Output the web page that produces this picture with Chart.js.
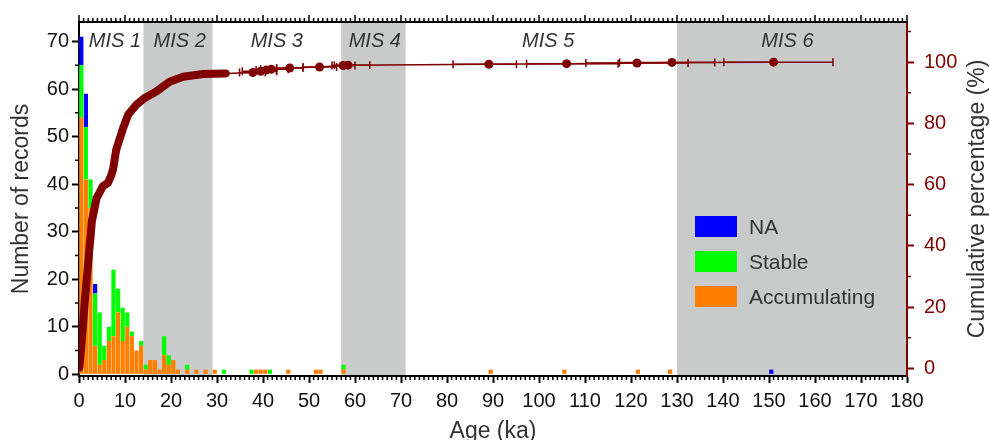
<!DOCTYPE html>
<html>
<head>
<meta charset="utf-8">
<title>Records by age</title>
<script src="https://cdn.jsdelivr.net/npm/chart.js@4.4.1/dist/chart.umd.min.js"></script>
<style>
  html, body { margin: 0; padding: 0; background: #fff; }
  #wrap { width: 990px; height: 440px; }
</style>
</head>
<body>
<div id="wrap"><canvas id="chart"></canvas></div>
<script>
// --- DATA ---
// 1-ka age bins: start of each bin (ka); bins without records are left out
const binStarts = [0, 1, 2, 3, 4, 5, 6, 7, 8, 9, 10, 11, 12, 13, 14, 15, 16, 17, 18, 19, 20, 21,
                   23, 25, 27, 29, 31, 37, 38, 39, 40, 41, 45, 51, 52, 57, 89, 105, 121, 128, 150];
const accumulating = [54, 41, 35, 6, 2, 3, 7, 8, 13, 7, 10, 8, 5, 6, 1, 3, 3, 1, 4, 2, 3, 1,
                      1, 1, 1, 1, 0, 0, 1, 1, 1, 0, 1, 1, 1, 1, 1, 1, 1, 1, 0];
const stable = [11, 11, 6, 11, 11, 3, 3, 14, 5, 7, 3, 1, 0, 1, 1, 0, 0, 0, 4, 2, 0, 0,
                1, 0, 0, 0, 1, 1, 0, 0, 0, 1, 0, 0, 0, 1, 0, 0, 0, 0, 0];
const notAvailable = [6, 7, 0, 2, 0, 0, 0, 0, 0, 0, 0, 0, 0, 0, 0, 0, 0, 0, 0, 0, 0, 0,
                      0, 0, 0, 0, 0, 0, 0, 0, 0, 0, 0, 0, 0, 0, 0, 0, 0, 0, 1];

// cumulative percentage curve; error bars only on the sparse older records
const cumAge = [0.1, 0.7, 1.24, 2.2, 2.8, 3.8, 5.2, 6.3, 7.0, 7.4, 8.1, 9.6, 10.7, 12.5, 14.3, 16.8, 19.7, 22.6, 27, 31.9,
                37.8, 39.5, 40.7, 41.8, 45.8, 52.3, 57.4, 58.5, 89.1, 106, 121.3, 128.9, 151];
const cumPct = [0.3, 11, 21.5, 38, 48, 55.5, 59.5, 60.6, 63, 65, 71.5, 78.5, 82.9, 86.1, 88.3, 90.4, 93.6, 95.2, 96.1, 96.3,
                96.6, 97.0, 97.4, 97.7, 98.1, 98.4, 98.9, 99.0, 99.3, 99.5, 99.7, 99.9, 100];
const cumErrLow = [null, null, null, null, null, null, null, null, null, null, null, null, null, null, null, null, null, null, null, null,
                   34.9, 35.5, 38.5, 39.5, 43, 48.7, 55, 55.5, 81.3, 97.3, 110.2, 117.5, 140.2];
const cumErrHigh = [null, null, null, null, null, null, null, null, null, null, null, null, null, null, null, null, null, null, null, null,
                    40.5, 43, 42.9, 45.5, 48.7, 56, 60, 63.2, 95.1, 117.2, 132.4, 138.2, 163.9];

// marine isotope stages
const misNames = ['MIS 1', 'MIS 2', 'MIS 3', 'MIS 4', 'MIS 5', 'MIS 6'];
const misLabelAge = [7.8, 21.9, 43, 64.3, 102, 154];
const shadedStart = [14, 57, 130];
const shadedEnd = [29, 71, 180];

const xTicks = { min: 0, max: 180, step: 10 };
const leftTicks = { min: -0.35, max: 74.1, step: 10 };
const rightTicks = { min: -2.47, max: 113.1, step: 20 };

// --- Styling ---
const DARK_RED = '#800000';
const FONT = '"Liberation Sans", Arial, sans-serif';
Chart.defaults.font.family = FONT;

const pairs = (vals) => binStarts.map((b, i) => ({ x: b + 0.5, y: vals[i] }));
const isSparse = (i) => cumErrLow[i] !== null && cumErrLow[i] !== undefined;

const decorations = {
    id: 'decorations',
    beforeDraw(chart) {
        const { ctx, chartArea: a, scales: { x } } = chart;
        ctx.save();
        ctx.fillStyle = '#c9caca';
        shadedStart.forEach((s, i) => {
            const x0 = x.getPixelForValue(s), x1 = x.getPixelForValue(shadedEnd[i]);
            ctx.fillRect(x0, a.top, x1 - x0, a.bottom - a.top);
        });
        ctx.restore();
    },
    afterDatasetsDraw(chart) {
        // horizontal error bars for the cumulative curve
        const { ctx, scales: { x, y2 } } = chart;
        ctx.save();
        ctx.strokeStyle = DARK_RED;
        ctx.lineWidth = 1.5;
        cumAge.forEach((age, i) => {
            if (!isSparse(i)) return;
            const py = y2.getPixelForValue(cumPct[i]);
            const xl = x.getPixelForValue(cumErrLow[i]);
            const xh = x.getPixelForValue(cumErrHigh[i]);
            ctx.beginPath();
            ctx.moveTo(xl, py); ctx.lineTo(xh, py);
            ctx.moveTo(xl, py - 4); ctx.lineTo(xl, py + 4);
            ctx.moveTo(xh, py - 4); ctx.lineTo(xh, py + 4);
            ctx.stroke();
        });
        ctx.restore();
    },
    afterDraw(chart) {
        const { ctx, chartArea: a, scales: { x, y, y2 } } = chart;
        ctx.save();

        // top frame with outward ticks
        ctx.strokeStyle = '#000';
        ctx.lineWidth = 2;
        ctx.beginPath();
        ctx.moveTo(a.left - 1, a.top); ctx.lineTo(a.right, a.top);
        ctx.stroke();

        ctx.lineWidth = 1.5;
        ctx.beginPath();
        for (let v = xTicks.min; v <= xTicks.max; v++) {
            const px = x.getPixelForValue(v);
            const major = v % xTicks.step === 0;
            ctx.moveTo(px, a.top); ctx.lineTo(px, a.top - (major ? 7 : 4));
            if (!major) { ctx.moveTo(px, a.bottom); ctx.lineTo(px, a.bottom + 4); }
        }
        for (let v = 5; v < leftTicks.max; v += 10) {
            const py = y.getPixelForValue(v);
            ctx.moveTo(a.left, py); ctx.lineTo(a.left - 4, py);
        }
        ctx.stroke();

        ctx.strokeStyle = DARK_RED;
        ctx.beginPath();
        for (let v = 10; v < rightTicks.max; v += 20) {
            const py = y2.getPixelForValue(v);
            ctx.moveTo(a.right, py); ctx.lineTo(a.right + 4, py);
        }
        ctx.stroke();

        // stage labels
        ctx.fillStyle = '#333';
        ctx.font = 'italic 20px ' + FONT;
        ctx.textAlign = 'center';
        ctx.textBaseline = 'alphabetic';
        misNames.forEach((name, i) => ctx.fillText(name, x.getPixelForValue(misLabelAge[i]), 47));

        // legend inside plot
        const bars = chart.data.datasets.filter(d => d.type !== 'line').slice().reverse();
        ctx.font = '21px ' + FONT;
        ctx.textAlign = 'left';
        ctx.textBaseline = 'middle';
        bars.forEach((d, i) => {
            const top = 216 + i * 35;
            ctx.fillStyle = d.backgroundColor;
            ctx.fillRect(695, top, 42, 21);
            ctx.fillStyle = '#333';
            ctx.fillText(d.label, 749, top + 12);
        });

        // axis titles
        ctx.font = '23px ' + FONT;
        ctx.textAlign = 'center';
        ctx.textBaseline = 'alphabetic';
        ctx.fillStyle = '#333';
        ctx.fillText('Age (ka)', (a.left + a.right) / 2, 438);

        const cy = (a.top + a.bottom) / 2;
        ctx.save();
        ctx.translate(28, cy);
        ctx.rotate(-Math.PI / 2);
        ctx.fillText('Number of records', 0, 0);
        ctx.restore();

        ctx.save();
        ctx.translate(984, cy);
        ctx.rotate(-Math.PI / 2);
        ctx.fillText('Cumulative percentage (%)', 0, 0);
        ctx.restore();

        ctx.restore();
    }
};

const barCommon = {
    type: 'bar',
    yAxisID: 'y',
    borderWidth: 0,
    barPercentage: 0.92,
    categoryPercentage: 1,
    order: 1
};

new Chart(document.getElementById('chart'), {
    type: 'bar',
    data: {
        datasets: [
            { ...barCommon, label: 'Accumulating', data: pairs(accumulating), backgroundColor: '#ff8000' },
            { ...barCommon, label: 'Stable', data: pairs(stable), backgroundColor: '#00ff00' },
            { ...barCommon, label: 'NA', data: pairs(notAvailable), backgroundColor: '#0000ff' },
            {
                type: 'line',
                label: 'Cumulative percentage',
                yAxisID: 'y2',
                order: 0,
                data: cumAge.map((a, i) => ({ x: a, y: cumPct[i] })),
                borderColor: DARK_RED,
                backgroundColor: DARK_RED,
                borderCapStyle: 'round',
                borderJoinStyle: 'round',
                tension: 0,
                pointRadius: ctx => isSparse(ctx.dataIndex) ? 4.5 : 0,
                pointBorderWidth: 0,
                pointHoverRadius: 0,
                segment: {
                    borderWidth: ctx => isSparse(ctx.p1DataIndex) ? 1.5 : 8
                }
            }
        ]
    },
    options: {
        responsive: true,
        maintainAspectRatio: false,
        animation: false,
        layout: { padding: { top: 16, left: 0, right: 0, bottom: 0 } },
        plugins: {
            legend: { display: false },
            tooltip: { enabled: false }
        },
        scales: {
            x: {
                type: 'linear',
                min: xTicks.min,
                max: xTicks.max,
                stacked: true,
                offset: false,
                grid: { display: true, offset: false, drawOnChartArea: false, drawTicks: true, tickLength: 7, tickWidth: 2, tickColor: '#000' },
                border: { display: true, color: '#000', width: 2 },
                ticks: { stepSize: xTicks.step, autoSkip: false, maxRotation: 0, padding: 6, color: '#111', font: { size: 20 } },
                afterFit: s => { s.height = 64; }
            },
            y: {
                position: 'left',
                min: leftTicks.min,
                max: leftTicks.max,
                stacked: true,
                grid: { display: true, drawOnChartArea: false, drawTicks: true, tickLength: 7, tickWidth: 2, tickColor: '#000' },
                border: { display: true, color: '#000', width: 2 },
                ticks: { stepSize: leftTicks.step, includeBounds: false, padding: 3, color: '#111', font: { size: 20 } },
                afterFit: s => { s.width = 79; }
            },
            y2: {
                position: 'right',
                min: rightTicks.min,
                max: rightTicks.max,
                grid: { display: true, drawOnChartArea: false, drawTicks: true, tickLength: 7, tickWidth: 2, tickColor: DARK_RED },
                border: { display: true, color: DARK_RED, width: 2 },
                ticks: { stepSize: rightTicks.step, includeBounds: false, padding: 10, color: DARK_RED, font: { size: 20 } },
                afterFit: s => { s.width = 83; }
            }
        }
    },
    plugins: [decorations]
});
</script>
</body>
</html>
